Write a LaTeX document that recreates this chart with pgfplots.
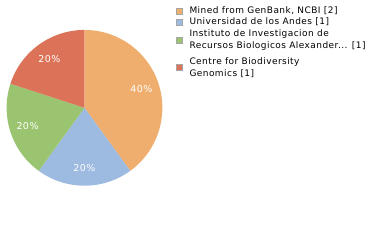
\documentclass[border=0pt]{standalone}
\usepackage{fontspec}
\setmainfont{DejaVu Sans}[LetterSpace=5]
\usepackage{pgfplots}
\pgfplotsset{compat=1.18}
\usetikzlibrary{calc}

\definecolor{sA}{HTML}{F0AE6E}
\definecolor{sB}{HTML}{9DBAE0}
\definecolor{sC}{HTML}{9BC471}
\definecolor{sD}{HTML}{DC7359}

% counts per institution
\def\vA{2}
\def\vB{1}
\def\vC{1}
\def\vD{1}

\begin{document}
\begin{tikzpicture}
\pgfmathsetmacro{\tot}{\vA+\vB+\vC+\vD}
\pgfmathsetmacro{\aA}{90}
\pgfmathsetmacro{\aB}{\aA-360*\vA/\tot}
\pgfmathsetmacro{\aC}{\aB-360*\vB/\tot}
\pgfmathsetmacro{\aD}{\aC-360*\vC/\tot}
\pgfmathsetmacro{\aE}{\aD-360*\vD/\tot}
\begin{axis}[
    width=380pt, height=240pt, scale only axis,
    xmin=0, xmax=380, ymin=0, ymax=240,
    hide axis, clip=false]
  \path (rel axis cs:0,0) rectangle (rel axis cs:1,1);
  \def\cx{84}\def\cy{132}\def\r{78}
  \fill[sA] (axis cs:\cx,\cy) -- ++(\aA:\r pt) arc[start angle=\aA, end angle=\aB, radius=\r pt] -- cycle;
  \fill[sB] (axis cs:\cx,\cy) -- ++(\aB:\r pt) arc[start angle=\aB, end angle=\aC, radius=\r pt] -- cycle;
  \fill[sC] (axis cs:\cx,\cy) -- ++(\aC:\r pt) arc[start angle=\aC, end angle=\aD, radius=\r pt] -- cycle;
  \fill[sD] (axis cs:\cx,\cy) -- ++(\aD:\r pt) arc[start angle=\aD, end angle=\aE, radius=\r pt] -- cycle;
  \begin{scope}[every node/.style={text=white, font=\fontsize{9.5}{10}\selectfont}]
    \node at ($(axis cs:\cx,\cy)+({(\aA+\aB)/2}:60pt)$) {40\%};
    \node at ($(axis cs:\cx,\cy)+({(\aB+\aC)/2}:60pt)$) {20\%};
    \node at ($(axis cs:\cx,\cy)+({(\aC+\aD)/2}:60pt)$) {20\%};
    \node at ($(axis cs:\cx,\cy)+({(\aD+\aE)/2}:60pt)$) {20\%};
  \end{scope}
  \begin{scope}[every node/.style={anchor=west, align=left, inner sep=0pt, font=\fontsize{9}{12}\selectfont, text=black}]
    \draw[fill=sA, draw=gray!70] (axis cs:175.5,225.5) rectangle ++(6pt,6pt);
    \node at (axis cs:189,229) {Mined from GenBank, NCBI [2]};
    \draw[fill=sB, draw=gray!70] (axis cs:175.5,214.5) rectangle ++(6pt,6pt);
    \node at (axis cs:189,218) {Universidad de los Andes [1]};
    \draw[fill=sC, draw=gray!70] (axis cs:175.5,196.5) rectangle ++(6pt,6pt);
    \node at (axis cs:189,200) {Instituto de Investigacion de\\Recursos Biologicos Alexander... [1]};
    \draw[fill=sD, draw=gray!70] (axis cs:175.5,169.5) rectangle ++(6pt,6pt);
    \node at (axis cs:189,172) {Centre for Biodiversity\\Genomics [1]};
  \end{scope}
\end{axis}
\end{tikzpicture}
\end{document}
